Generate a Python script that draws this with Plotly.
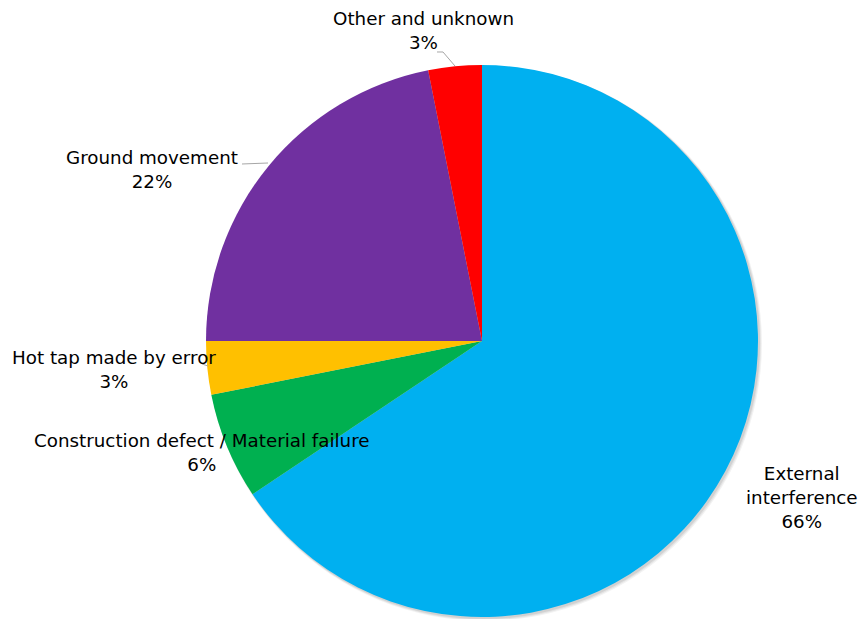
import plotly.graph_objects as go

categories = ["External interference", "Construction defect / Material failure",
              "Hot tap made by error", "Ground movement", "Other and unknown"]
counts = [21, 2, 1, 7, 1]
colors = ["#00B0F0", "#00B050", "#FFC000", "#7030A0", "#FF0000"]

W, H = 862, 619
CX, CY, R = 482, 341, 276
total = sum(counts)
pct = [round(100 * c / total) for c in counts]

fig = go.Figure()
fig.add_trace(go.Pie(
    labels=categories, values=counts, sort=False, direction="clockwise",
    rotation=0, marker=dict(colors=colors, line=dict(width=0)),
    textinfo="none", hoverinfo="label+percent", showlegend=False,
    domain=dict(x=[(CX - R) / W, (CX + R) / W], y=[(H - CY - R) / H, (H - CY + R) / H]),
))

# soft shadow behind the pie
for k, op in [(4, 0.05), (3, 0.06), (2, 0.08)]:
    fig.add_shape(type="circle", xref="paper", yref="paper", layer="below",
                  x0=(CX - R + 1) / W, x1=(CX + R + k) / W,
                  y0=1 - (CY + R + k) / H, y1=1 - (CY - R + 1) / H,
                  fillcolor="rgba(0,0,0,%f)" % op, line=dict(width=0))

label_text = {
    0: "External<br>interference<br>%d%%" % pct[0],
    1: "Construction defect / Material failure<br>%d%%" % pct[1],
    2: "Hot tap made by error<br>%d%%" % pct[2],
    3: "Ground movement<br>%d%%" % pct[3],
    4: "Other and unknown<br>%d%%" % pct[4],
}
label_pos = {0: (802, 497), 1: (202, 452), 2: (114, 369), 3: (152, 170), 4: (423, 31)}

for i, txt in label_text.items():
    x, y = label_pos[i]
    fig.add_annotation(x=x / W, y=1 - y / H, xref="paper", yref="paper", text=txt,
                       showarrow=False, xanchor="center", yanchor="middle",
                       font=dict(family="DejaVu Sans", size=18.3, color="#000000"))

def line(pts):
    path = "M " + " L ".join("%f,%f" % (px / W, 1 - py / H) for px, py in pts)
    fig.add_shape(type="path", path=path, xref="paper", yref="paper",
                  line=dict(color="#A6A6A6", width=1))

line([(437, 52), (443, 52), (455, 66)])
line([(242, 164), (268, 163)])
line([(202, 364), (208, 366)])

fig.update_layout(width=W, height=H, margin=dict(l=0, r=0, t=0, b=0),
                  paper_bgcolor="white", plot_bgcolor="white")
fig.write_html("out.html", post_script="document.body.style.margin='0';",
               config={"displayModeBar": False})
